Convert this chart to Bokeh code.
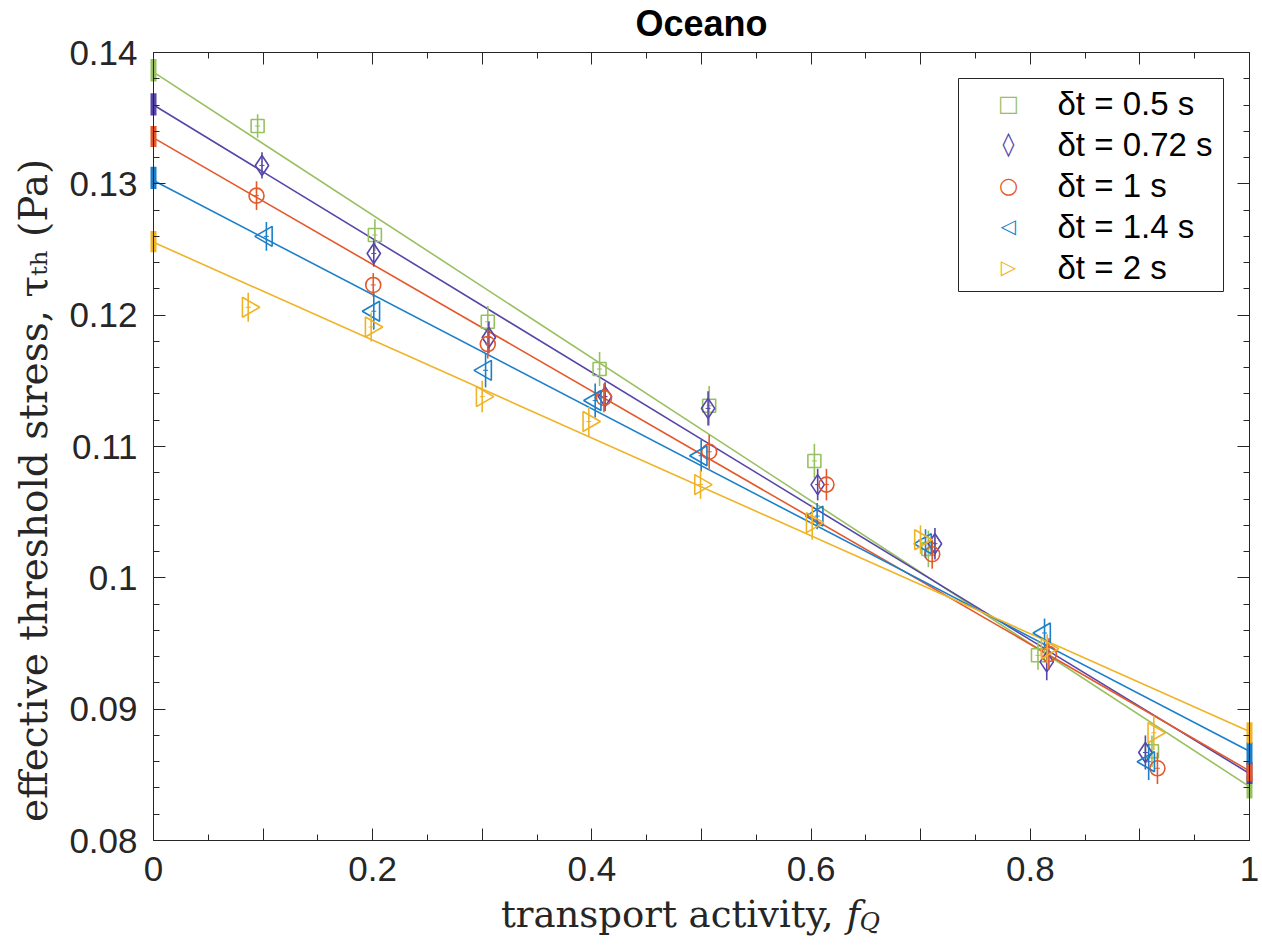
import math
from bokeh.plotting import figure
from bokeh.models import (ColumnDataSource, FixedTicker, LinearAxis,
                          BoxAnnotation, Label, Range1d)
from bokeh.embed import file_html
from bokeh.resources import INLINE

# ---------------- data ----------------
series_labels = ["δt = 0.5 s", "δt = 0.72 s", "δt = 1 s", "δt = 1.4 s", "δt = 2 s"]

x_05 = [0.095, 0.202, 0.305, 0.407, 0.507, 0.603, 0.707, 0.807, 0.911]
y_05 = [0.1344, 0.1261, 0.1195, 0.1159, 0.1131, 0.1089, 0.1022, 0.0941, 0.0868]
e_05 = [0.0009, 0.0012, 0.0012, 0.0013, 0.0015, 0.0013, 0.0014, 0.0011, 0.0012]

x_072 = [0.099, 0.201, 0.306, 0.412, 0.506, 0.606, 0.713, 0.815, 0.905]
y_072 = [0.1314, 0.1247, 0.1183, 0.1138, 0.1129, 0.1071, 0.1026, 0.0936, 0.0867]
e_072 = [0.0010, 0.0010, 0.0012, 0.0011, 0.0013, 0.0012, 0.0012, 0.0014, 0.0013]

x_1 = [0.094, 0.2005, 0.305, 0.411, 0.507, 0.614, 0.7105, 0.817, 0.916]
y_1 = [0.1291, 0.1223, 0.1178, 0.1137, 0.1096, 0.1071, 0.1018, 0.0942, 0.0855]
e_1 = [0.0011, 0.0009, 0.0011, 0.0011, 0.0013, 0.0012, 0.0011, 0.0012, 0.0012]

x_14 = [0.103, 0.201, 0.303, 0.403, 0.4997, 0.6055, 0.7044, 0.813, 0.908]
y_14 = [0.1260, 0.1203, 0.1158, 0.1135, 0.1093, 0.1047, 0.1026, 0.0958, 0.0860]
e_14 = [0.0011, 0.0014, 0.0013, 0.0013, 0.0012, 0.0010, 0.0011, 0.0011, 0.0014]

x_2 = [0.0864, 0.1986, 0.2999, 0.3972, 0.4991, 0.601, 0.6998, 0.8154, 0.9127]
y_2 = [0.1206, 0.1191, 0.1138, 0.1119, 0.1071, 0.1042, 0.1029, 0.0946, 0.0882]
e_2 = [0.0011, 0.0011, 0.0012, 0.0011, 0.0011, 0.0013, 0.0011, 0.0011, 0.0013]

# linear fits: value at f_Q = 0 and at f_Q = 1
fit_at_0 = [0.1385, 0.1360, 0.1335, 0.13025, 0.12555]
fit_at_1 = [0.0841, 0.0851, 0.0853, 0.0868, 0.0883]

# uncertainty bars on the axes (at f_Q = 0 and f_Q = 1)
bar0_lo = [0.1378, 0.1352, 0.1328, 0.1296, 0.1248]
bar0_hi = [0.1395, 0.1369, 0.1344, 0.1313, 0.1264]
bar1_lo = [0.0832, 0.0843, 0.0845, 0.0858, 0.0874]
bar1_hi = [0.0849, 0.0859, 0.0860, 0.0875, 0.0890]

x_label_ticks = [0, 0.2, 0.4, 0.6, 0.8, 1]
x_tick_labels = ["0", "0.2", "0.4", "0.6", "0.8", "1"]
x_other_major = [0.1, 0.3, 0.5, 0.7, 0.9]
x_all_major = [0, 0.1, 0.2, 0.3, 0.4, 0.5, 0.6, 0.7, 0.8, 0.9, 1]
x_minor = [0.05, 0.15, 0.25, 0.35, 0.45, 0.55, 0.65, 0.75, 0.85, 0.95]
y_ticks = [0.08, 0.09, 0.1, 0.11, 0.12, 0.13, 0.14]
y_tick_labels = ["0.08", "0.09", "0.1", "0.11", "0.12", "0.13", "0.14"]
y_minor = [round(0.08 + 0.002 * i, 3) for i in range(31) if i % 5]

title_text = "Oceano"
y_label_text = "effective threshold stress, τₜₕ (Pa)"

xs = [x_05, x_072, x_1, x_14, x_2]
ys = [y_05, y_072, y_1, y_14, y_2]
es = [e_05, e_072, e_1, e_14, e_2]

# ---------------- layout / style ----------------
colors = ["#97C160", "#5546A8", "#E4582A", "#1B7FC9", "#EFB326"]
markers = ["square", "diamond", "circle", "triangle", "triangle"]
angles = [0, 0, 0, math.pi / 2, -math.pi / 2]
sizes = [13, 20, 15, 20, 20]
legend_symbols = ["□", "◊", "○", "◁", "▷"]
legend_symbol_sizes = ["22px", "24px", "22px", "20px", "20px"]
AX = "#262626"

W, H = 1262, 949
BOX_L, BOX_R, BOX_T, BOX_B = 153, 1249, 52, 840   # axes box in pixels
X0, X1, Y0, Y1 = 0.0, 1.0, 0.08, 0.14
kx = (BOX_R - BOX_L) / (X1 - X0)
ky = (BOX_B - BOX_T) / (Y1 - Y0)
x_range = Range1d(X0 - BOX_L / kx, X1 + (W - BOX_R) / kx)
y_range = Range1d(Y0 - (H - BOX_B) / ky, Y1 + BOX_T / ky)

p = figure(frame_width=W, frame_height=H,
           x_range=x_range, y_range=y_range,
           x_axis_location=None, y_axis_location=None,
           output_backend="svg", toolbar_location=None,
           min_border_left=0, min_border_right=0,
           min_border_top=0, min_border_bottom=0,
           background_fill_color="white", border_fill_color="white")
p.xgrid.visible = False
p.ygrid.visible = False
p.outline_line_color = None


def make_axis(major, minor, loc, bounds, major_len=12, minor_len=6, labels=None):
    ax = LinearAxis(ticker=FixedTicker(ticks=major, minor_ticks=minor),
                    fixed_location=loc, bounds=bounds)
    ax.axis_line_color = AX
    ax.axis_line_width = 1
    ax.major_tick_line_color = AX
    ax.minor_tick_line_color = AX
    ax.major_tick_in = major_len
    ax.major_tick_out = 0
    ax.minor_tick_in = minor_len
    ax.minor_tick_out = 0
    ax.major_label_text_font = "Liberation Sans"
    ax.major_label_text_font_size = "35px"
    ax.major_label_text_color = AX
    ax.major_label_standoff = 16 if labels else 0
    if labels:
        ax.major_label_overrides = dict(zip(major, labels))
    return ax


# bottom: long ticks at the unlabelled tenths, then the labelled axis
p.add_layout(make_axis([], x_other_major, Y0, (X0, X1), minor_len=12), "below")
p.add_layout(make_axis(x_label_ticks, x_minor, Y0, (X0, X1), labels=x_tick_labels), "below")
# left: labelled
p.add_layout(make_axis(y_ticks, y_minor, X0, (Y0, Y1), labels=y_tick_labels), "left")
# top and right: ticks only
p.add_layout(make_axis([], x_all_major, Y1, (X0, X1), minor_len=12), "above")
p.add_layout(make_axis([], x_minor, Y1, (X0, X1)), "above")
p.add_layout(make_axis([], y_ticks, X1, (Y0, Y1), minor_len=12), "right")
p.add_layout(make_axis([], y_minor, X1, (Y0, Y1)), "right")

# title
p.add_layout(Label(x=(X0 + X1) / 2, y=Y1, y_offset=29, text=title_text,
                   text_align="center", text_baseline="alphabetic",
                   text_font="Liberation Sans", text_font_size="36px",
                   text_font_style="bold", text_color="black"))

# y-axis label (rotated)
p.add_layout(Label(x=33, y=H - 490, x_units="screen", y_units="screen",
                   text=y_label_text, angle=math.pi / 2,
                   text_align="center", text_baseline="middle",
                   text_font="DejaVu Serif", text_font_size="39px",
                   text_color=AX))

# x-axis label with subscript Q, as text pieces
lab_x = 0.6204
p.add_layout(Label(x=lab_x, y=Y0, y_offset=-74, text="transport activity,",
                   text_align="right", text_baseline="alphabetic",
                   text_font="DejaVu Serif", text_font_size="37px",
                   text_color=AX))
p.add_layout(Label(x=lab_x, y=Y0, x_offset=13, y_offset=-74, text="f",
                   text_align="left", text_baseline="alphabetic",
                   text_font="DejaVu Serif", text_font_size="37px",
                   text_font_style="italic", text_color=AX))
p.add_layout(Label(x=lab_x, y=Y0, x_offset=26, y_offset=-81, text="Q",
                   text_align="left", text_baseline="alphabetic",
                   text_font="DejaVu Serif", text_font_size="25px",
                   text_font_style="italic", text_color=AX))

# fit lines
for i in range(5):
    p.line([X0, X1], [fit_at_0[i], fit_at_1[i]], line_color=colors[i], line_width=1.6)

for i in range(5):
    src = ColumnDataSource(dict(
        x=xs[i], y=ys[i],
        lo=[a - b for a, b in zip(ys[i], es[i])],
        hi=[a + b for a, b in zip(ys[i], es[i])]))
    p.segment(x0="x", y0="lo", x1="x", y1="hi", source=src,
              line_color=colors[i], line_width=1.6)
    p.scatter(x="x", y="y", source=src, marker=markers[i], size=sizes[i],
              angle=angles[i], fill_color=None, line_color=colors[i],
              line_width=1.6)
    p.scatter(x="x", y="y", source=src, marker="dash", size=5,
              line_color=colors[i], line_width=1)

# thick uncertainty bars on the axes
for i in range(5):
    p.segment(x0=[X0, X1], y0=[bar0_lo[i], bar1_lo[i]], x1=[X0, X1],
              y1=[bar0_hi[i], bar1_hi[i]], line_color=colors[i], line_width=6)

# legend: box, symbols and texts (pixel layout, origin at lower-left)
LEG_L, LEG_R, LEG_T, PAD, ROW = 958, 1223, 78, 4, 41
SYM_X, TXT_X = 1008, 1057
leg_b = LEG_T + 2 * PAD + 5 * ROW
p.add_layout(BoxAnnotation(left=LEG_L, right=LEG_R, top=H - LEG_T, bottom=H - leg_b,
                           left_units="screen", right_units="screen",
                           top_units="screen", bottom_units="screen",
                           fill_color="white", fill_alpha=1,
                           line_color=AX, line_width=1, line_alpha=1))
for i in range(5):
    row_y = H - (LEG_T + PAD + ROW * i + ROW / 2)
    p.add_layout(Label(x=SYM_X, y=row_y, x_units="screen", y_units="screen",
                       text=legend_symbols[i], text_align="center",
                       text_baseline="middle", text_font="DejaVu Sans",
                       text_font_size=legend_symbol_sizes[i], text_color=colors[i]))
    p.add_layout(Label(x=TXT_X, y=row_y, x_units="screen", y_units="screen",
                       text=series_labels[i], text_align="left",
                       text_baseline="middle", text_font="Liberation Sans",
                       text_font_size="33px", text_color="black"))

open("out.html", "w").write(file_html(p, INLINE))
